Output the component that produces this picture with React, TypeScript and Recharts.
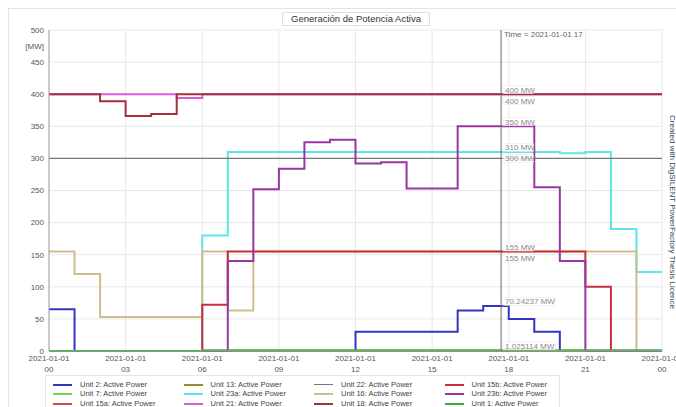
import React from 'react';
import { LineChart, Line, XAxis, YAxis, CartesianGrid, ReferenceLine, ReferenceDot } from 'recharts';

// hourly steps, value holds until the next hour
const HOURS = [0, 1, 2, 3, 4, 5, 6, 7, 8, 9, 10, 11, 12, 13, 14, 15, 16, 17, 18, 19, 20, 21, 22, 23, 24];

const X_TICKS = [0, 3, 6, 9, 12, 15, 18, 21, 24];
const X_TICK_DATE = '2021-01-01';
const X_TICK_HOUR = ['00', '03', '06', '09', '12', '15', '18', '21', '00'];
const Y_GRID = [0, 50, 100, 150, 200, 250, 300, 350, 400, 450, 500];
const Y_UNIT_AT = 475;
const Y_UNIT = '[MW]';

const TITLE = 'Generación de Potencia Activa';
const WATERMARK = 'Created with DigSILENT PowerFactory Thesis Licence';
const CURSOR_HOUR = 17.7;
const CURSOR_TEXT = 'Time = 2021-01-01 17';

const unit2 = [65, 0, 0, 0, 0, 0, 0, 0, 0, 0, 0, 0, 30, 30, 30, 30, 63, 70.24237, 50, 30, 0, 0, 0, 0, 0];
const unit7 = [0, 0, 0, 0, 0, 0, 0, 0, 0, 0, 0, 0, 0, 0, 0, 0, 0, 0, 0, 0, 0, 0, 0, 0, 0];
const unit15a = [0, 0, 0, 0, 0, 0, 0, 0, 0, 0, 0, 0, 0, 0, 0, 0, 0, 0, 0, 0, 0, 0, 0, 0, 0];
const unit13 = [0, 0, 0, 0, 0, 0, 0, 0, 0, 0, 0, 0, 0, 0, 0, 0, 0, 0, 0, 0, 0, 0, 0, 0, 0];
const unit23a = [0, 0, 0, 0, 0, 0, 180, 310, 310, 310, 310, 310, 310, 310, 310, 310, 310, 310, 310, 310, 308, 310, 190, 123, 123];
const unit21 = [400, 400, 400, 400, 400, 394, 400, 400, 400, 400, 400, 400, 400, 400, 400, 400, 400, 400, 400, 400, 400, 400, 400, 400, 400];
const unit22 = [300, 300, 300, 300, 300, 300, 300, 300, 300, 300, 300, 300, 300, 300, 300, 300, 300, 300, 300, 300, 300, 300, 300, 300, 300];
const unit16 = [155, 120, 53, 53, 53, 53, 155, 63, 155, 155, 155, 155, 155, 155, 155, 155, 155, 155, 155, 155, 155, 155, 155, 0, 0];
const unit18 = [400, 400, 389, 366, 369, 400, 400, 400, 400, 400, 400, 400, 400, 400, 400, 400, 400, 400, 400, 400, 400, 400, 400, 400, 400];
const unit15b = [0, 0, 0, 0, 0, 0, 72, 155, 155, 155, 155, 155, 155, 155, 155, 155, 155, 155, 155, 155, 155, 100, 0, 0, 0];
const unit23b = [0, 0, 0, 0, 0, 0, 0, 140, 252, 284, 325, 329, 292, 294, 253, 253, 350, 350, 350, 255, 140, 0, 0, 0, 0];
const unit1 = [0, 0, 0, 0, 0, 0, 1.025114, 1.025114, 1.025114, 1.025114, 1.025114, 1.025114, 1.025114, 1.025114, 1.025114, 1.025114, 1.025114, 1.025114, 1.025114, 1.025114, 1.025114, 1.025114, 1.025114, 1.025114, 1.025114];

const SERIES = [
  { key: 'u2', name: 'Unit 2: Active Power', color: '#3434c4', values: unit2 },
  { key: 'u7', name: 'Unit 7: Active Power', color: '#6ad65a', values: unit7 },
  { key: 'u15a', name: 'Unit 15a: Active Power', color: '#d6464e', values: unit15a },
  { key: 'u13', name: 'Unit 13: Active Power', color: '#9a8a34', values: unit13 },
  { key: 'u23a', name: 'Unit 23a: Active Power', color: '#5ce6ea', values: unit23a },
  { key: 'u21', name: 'Unit 21: Active Power', color: '#dc5cdc', values: unit21 },
  { key: 'u22', name: 'Unit 22: Active Power', color: '#777777', values: unit22 },
  { key: 'u16', name: 'Unit 16: Active Power', color: '#cdbf8c', values: unit16 },
  { key: 'u18', name: 'Unit 18: Active Power', color: '#a3303c', values: unit18 },
  { key: 'u15b', name: 'Unit 15b: Active Power', color: '#c92f38', values: unit15b },
  { key: 'u23b', name: 'Unit 23b: Active Power', color: '#9a36a4', values: unit23b },
  { key: 'u1', name: 'Unit 1: Active Power', color: '#3cae3c', values: unit1 },
];

const W = 676;
const H = 407;
const MARGIN = { top: 30, right: 14, bottom: 26, left: 9 };
const X_AXIS_H = 30;
const Y_MAX = 500;
const PLOT_H = H - MARGIN.top - MARGIN.bottom - X_AXIS_H;
const FONT = '"Liberation Sans", Arial, sans-serif';

const data = HOURS.map((h, i) => {
  const row: any = { h };
  SERIES.forEach((s) => (row[s.key] = s.values[i]));
  return row;
});

// values read at the cursor, stacked so they don't overlap
const cursorIdx = Math.floor(CURSOR_HOUR);
const cursorLabels = (() => {
  const items = SERIES.filter((s) => s.values[cursorIdx] > 0)
    .map((s) => ({ value: s.values[cursorIdx] }))
    .sort((a, b) => b.value - a.value);
  let prev = -100;
  return items.map((it) => {
    const py = ((Y_MAX - it.value) * PLOT_H) / Y_MAX;
    let place = py - 4.5;
    if (place < prev + 10.5) place = prev + 11;
    prev = place;
    return { ...it, dy: place - py };
  });
})();

const XTick = (props: any) => {
  const { x, y, payload } = props;
  const i = X_TICKS.indexOf(payload.value);
  return (
    <g>
      <text x={x} y={y + 5.5} textAnchor="middle" fontSize={8} fill="#555" fontFamily={FONT}>
        {X_TICK_DATE}
      </text>
      <text x={x} y={y + 17} textAnchor="middle" fontSize={8} fill="#555" fontFamily={FONT}>
        {X_TICK_HOUR[i]}
      </text>
    </g>
  );
};

const cursorLabel = (text: string, dy: number) => (props: any) => {
  const vb = props.viewBox || {};
  const x = (vb.x ?? 0) + (vb.width ?? 0) / 2;
  const y = (vb.y ?? 0) + (vb.height ?? 0) / 2 + dy;
  const w = text.length * 4.4 + 4;
  return (
    <g>
      <rect x={x + 2} y={y - 4} width={w} height={8} fill="#fff" fillOpacity={0.8} stroke="#e6e6e6" strokeWidth={0.5} />
      <text x={x + 4} y={y + 2.8} fontSize={8} fill="#8a8a8a" fontFamily={FONT}>
        {text}
      </text>
    </g>
  );
};

const timeLabel = (props: any) => {
  const vb = props.viewBox || {};
  return (
    <text x={(vb.x ?? 0) + 3} y={(vb.y ?? 0) + 6.5} fontSize={8} fill="#666" fontFamily={FONT}>
      {CURSOR_TEXT}
    </text>
  );
};

function LegendBox() {
  return (
    <div
      style={{
        position: 'absolute',
        left: 45,
        top: 375,
        width: 515,
        height: 40,
        border: '1px solid #e6e6e6',
        boxSizing: 'border-box',
      }}
    >
      {SERIES.map((s, i) => {
        const col = Math.floor(i / 3);
        const row = i % 3;
        return (
          <div
            key={s.key}
            style={{
              position: 'absolute',
              left: 7 + col * 130.5,
              top: 3.5 + row * 9.7,
              height: 10,
              display: 'flex',
              alignItems: 'center',
              whiteSpace: 'nowrap',
            }}
          >
            <span
              style={{
                display: 'inline-block',
                width: 19,
                height: s.key === 'u22' ? 1 : 2,
                background: s.color,
                marginRight: 8,
              }}
            />
            <span style={{ fontSize: 7.5, color: '#444', fontFamily: FONT, lineHeight: '10px' }}>{s.name}</span>
          </div>
        );
      })}
    </div>
  );
}

export default function App() {
  return (
    <div style={{ position: 'absolute', left: 0, top: 0, width: W, height: H, background: '#fff', overflow: 'hidden' }}>
      <div
        style={{
          position: 'absolute',
          left: 8,
          top: 8,
          width: W - 8,
          height: H - 8,
          borderLeft: '1px solid #e4e4e4',
          borderTop: '1px solid #e4e4e4',
        }}
      />
      <div style={{ position: 'absolute', left: 0, top: 0 }}>
        <LineChart width={W} height={H} data={data} margin={MARGIN}>
          <CartesianGrid
            stroke="#e8e8e8"
            horizontalValues={Y_GRID}
            verticalValues={X_TICKS}
          />
          <XAxis
            dataKey="h"
            type="number"
            domain={[0, 24]}
            ticks={X_TICKS}
            height={X_AXIS_H}
            tick={<XTick />}
            tickLine={false}
            tickSize={2}
            tickMargin={2}
            axisLine={{ stroke: '#a0a0a0' }}
            interval={0}
          />
          <YAxis
            type="number"
            domain={[0, Y_MAX]}
            ticks={[...Y_GRID.slice(0, 10), Y_UNIT_AT, Y_MAX]}
            tickFormatter={(v: number) => (v === Y_UNIT_AT ? Y_UNIT : String(v))}
            width={40}
            tickLine={false}
            tickSize={3}
            tickMargin={2}
            tick={{ fontSize: 8, fill: '#555', fontFamily: FONT }}
            axisLine={{ stroke: '#a0a0a0' }}
            interval={0}
          />
          {SERIES.map((s) => (
            <Line
              key={s.key}
              type="stepAfter"
              dataKey={s.key}
              name={s.name}
              stroke={s.color}
              strokeWidth={s.key === 'u22' ? 1.2 : 2}
              dot={false}
              activeDot={false}
              isAnimationActive={false}
            />
          ))}
          <ReferenceLine x={CURSOR_HOUR} stroke="#6a6a6a" strokeWidth={1} label={{ content: timeLabel }} />
          {cursorLabels.map((c, i) => (
            <ReferenceDot
              key={i}
              x={CURSOR_HOUR}
              y={c.value}
              r={0}
              fill="none"
              stroke="none"
              label={{ content: cursorLabel(`${c.value} MW`, c.dy) }}
            />
          ))}
        </LineChart>
      </div>
      <div
        style={{
          position: 'absolute',
          left: 282,
          top: 12,
          width: 148,
          height: 14,
          border: '1px solid #e0e0e0',
          boxSizing: 'border-box',
          background: '#fff',
          textAlign: 'center',
          fontFamily: FONT,
          fontSize: 9.5,
          lineHeight: '12px',
          color: '#333',
        }}
      >
        {TITLE}
      </div>
      <div
        style={{
          position: 'absolute',
          left: 668,
          top: 115,
          writingMode: 'vertical-rl',
          fontFamily: FONT,
          fontSize: 8,
          lineHeight: '8px',
          color: '#444',
          whiteSpace: 'nowrap',
        }}
      >
        {WATERMARK}
      </div>
      <LegendBox />
    </div>
  );
}
